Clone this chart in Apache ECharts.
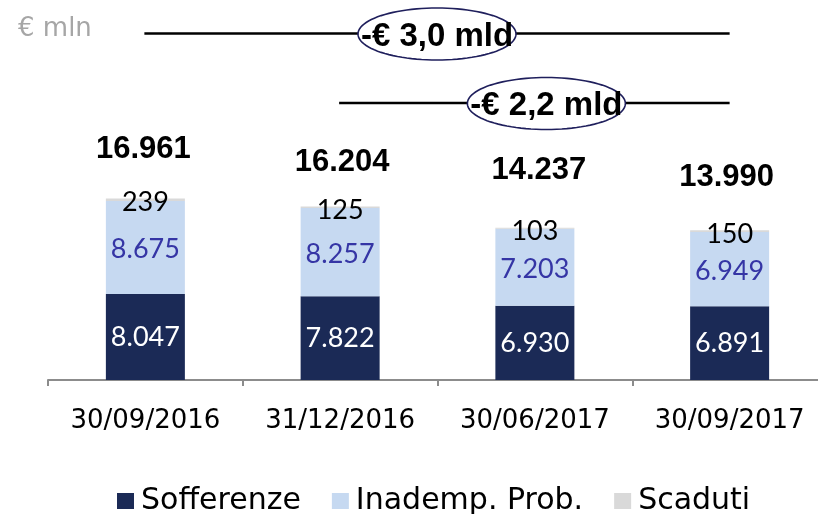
<!DOCTYPE html>
<html>
<head>
<meta charset="utf-8">
<script src="https://cdn.jsdelivr.net/npm/echarts@6/dist/echarts.min.js"></script>
<style>
  html, body { margin: 0; padding: 0; background: #ffffff; }
  #chart { width: 818px; height: 514px; }
</style>
</head>
<body>
<div id="chart"></div>
<script>
// Crediti deteriorati lordi (€ mln) per data di riferimento
const categories = ['30/09/2016', '31/12/2016', '30/06/2017', '30/09/2017'];
const sofferenze = [8047, 7822, 6930, 6891];
const inadempProb = [8675, 8257, 7203, 6949];
const scaduti = [239, 125, 103, 150];
const totali = [16961, 16204, 14237, 13990];
const riduzioni = ['-€ 3,0 mld', '-€ 2,2 mld'];
const seriesNames = ['Sofferenze', 'Inademp. Prob.', 'Scaduti'];

// label placement for the totals above each column
const totalOffsets = [[-2, -49], [2, -44], [4, -57], [-3, -53]];

const fmt = v => String(v).replace(/\B(?=(\d{3})+(?!\d))/g, '.');

const NAVY = '#1b2a56';
const LIGHT = '#c6d9f1';
const GREY = '#d9d9d9';
const segFont = 'Lato, "Open Sans", sans-serif';
const plainFont = '"DejaVu Sans", sans-serif';

const chart = echarts.init(document.getElementById('chart'), null, { renderer: 'canvas' });

const option = {
  animation: false,
  backgroundColor: '#ffffff',
  title: {
    text: '€ mln',
    left: 13, top: 11,
    textStyle: { color: '#a6a6a6', fontSize: 26, fontWeight: 'normal', fontFamily: plainFont }
  },
  legend: {
    data: seriesNames,
    left: 112, top: 481,
    itemWidth: 17, itemHeight: 16, itemGap: 31,
    icon: 'rect',
    textStyle: { fontSize: 30, color: '#000000', fontFamily: plainFont, padding: [0, 0, 0, 2] }
  },
  grid: { left: 48, top: 59, right: -9, bottom: 134, containLabel: false, outerBoundsMode: 'none' },
  xAxis: {
    type: 'category',
    data: categories,
    axisLine: { lineStyle: { color: '#8c8c8c', width: 2 } },
    axisTick: { show: true, length: 6, lineStyle: { color: '#8c8c8c', width: 2 } },
    axisLabel: { interval: 0, color: '#000000', fontSize: 26, margin: 28, fontFamily: plainFont }
  },
  yAxis: { type: 'value', min: 0, max: 30000, show: false, splitLine: { show: false } },
  series: [
    {
      name: seriesNames[0], type: 'bar', stack: 'npl', barWidth: 79,
      itemStyle: { color: NAVY },
      label: { show: true, position: 'inside', color: '#ffffff', fontSize: 27, fontFamily: segFont, formatter: p => fmt(p.value) },
      data: sofferenze
    },
    {
      name: seriesNames[1], type: 'bar', stack: 'npl', barWidth: 79,
      itemStyle: { color: LIGHT },
      label: { show: true, position: 'inside', offset: [0, 2], color: '#3535a5', fontSize: 27, fontFamily: segFont, formatter: p => fmt(p.value) },
      data: inadempProb
    },
    {
      name: seriesNames[2], type: 'bar', stack: 'npl', barWidth: 79,
      itemStyle: { color: GREY },
      label: { show: true, position: 'inside', offset: [0, 3], color: '#000000', fontSize: 27, fontFamily: segFont, formatter: p => fmt(p.value) },
      data: scaduti
    },
    {
      name: 'Totale', type: 'scatter', symbolSize: 0, silent: true, z: 10,
      itemStyle: { color: '#000000', opacity: 1 },
      label: {
        show: true, position: 'inside', color: '#000000', fontSize: 31, fontWeight: 'bold',
        textBorderWidth: 0, opacity: 1,
        fontFamily: '"Liberation Sans", Arial, sans-serif', formatter: p => fmt(p.value)
      },
      data: totali.map((v, i) => ({ value: v, label: { offset: totalOffsets[i] } }))
    }
  ]
};

chart.setOption(option);

// Reduction brackets: a line from a column centre to the last column, with an oval callout
function ellipsePoints(cx, cy, rx, ry) {
  const pts = [];
  for (let k = 0; k < 96; k++) {
    const a = (k / 96) * Math.PI * 2;
    pts.push([cx + rx * Math.cos(a), cy + ry * Math.sin(a)]);
  }
  return pts;
}

function bracket(fromIdx, y, text, shift) {
  const x1 = chart.convertToPixel({ xAxisIndex: 0 }, fromIdx) - 1;
  const x2 = chart.convertToPixel({ xAxisIndex: 0 }, categories.length - 1);
  const cx = (x1 + x2) / 2 + shift;
  return [
    { type: 'line', z: 50, shape: { x1: x1, y1: y, x2: x2, y2: y }, style: { stroke: '#000000', lineWidth: 2.5 } },
    { type: 'polygon', z: 51, shape: { points: ellipsePoints(cx, y + 0.5, 79, 26) }, style: { fill: '#ffffff', stroke: '#1f1f5c', lineWidth: 1.6 } },
    {
      type: 'text', z: 52, x: cx, y: y + 3,
      style: {
        text: text, fill: '#000000', align: 'center', verticalAlign: 'middle',
        font: 'bold 33px "Liberation Sans", Arial, sans-serif'
      }
    }
  ];
}

chart.setOption({
  graphic: [].concat(
    bracket(0, 33.5, riduzioni[0], 0),
    bracket(1, 103, riduzioni[1], 12)
  )
});
</script>
</body>
</html>
